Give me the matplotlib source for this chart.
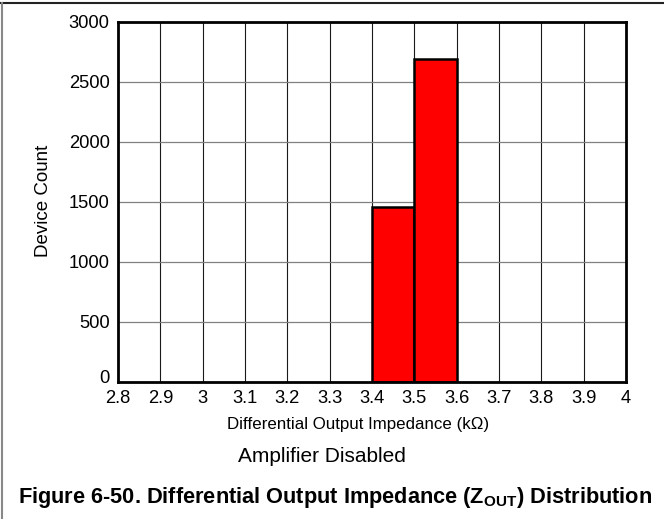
import matplotlib
matplotlib.use("Agg")
import matplotlib.pyplot as plt
from matplotlib.lines import Line2D
from matplotlib.transforms import ScaledTranslation

plt.rcParams['font.family'] = ['Liberation Sans', 'DejaVu Sans']
plt.rcParams['mathtext.fontset'] = 'custom'
plt.rcParams['mathtext.rm'] = 'Liberation Sans'
plt.rcParams['mathtext.it'] = 'Liberation Sans:italic'
plt.rcParams['mathtext.bf'] = 'Liberation Sans:bold'

# Histogram bins (left edges, kOhm) and device counts
bin_left = [3.4, 3.5]
bin_width = 0.1
counts = [1460, 2690]

x_ticks = [2.8, 2.9, 3.0, 3.1, 3.2, 3.3, 3.4, 3.5, 3.6, 3.7, 3.8, 3.9, 4.0]
x_tick_labels = ["2.8", "2.9", "3", "3.1", "3.2", "3.3", "3.4", "3.5",
                 "3.6", "3.7", "3.8", "3.9", "4"]
y_ticks = [0, 500, 1000, 1500, 2000, 2500, 3000]

W, H = 664, 519
fig = plt.figure(figsize=(W / 100, H / 100), dpi=100)
left, right, top, bottom = 118, 626, 22, 382
ax = fig.add_axes([left / W, 1 - bottom / H, (right - left) / W, (bottom - top) / H])

ax.bar(bin_left, counts, width=bin_width, align='edge',
       color='#ff0000', edgecolor='black', linewidth=1.8, zorder=3)

ax.set_xlim(2.8, 4.0)
ax.set_ylim(0, 3000)
ax.set_xticks(x_ticks)
ax.set_xticklabels(x_tick_labels)
ax.set_yticks(y_ticks)
ax.tick_params(axis='both', length=0, labelsize=13.2)
ax.tick_params(axis='x', pad=5.5)
ax.tick_params(axis='y', pad=6)

# lift the "0" label a little so it clears the first x label
zero_label = ax.get_yticklabels()[0]
zero_label.set_transform(zero_label.get_transform()
                         + ScaledTranslation(0, 4 / 72, fig.dpi_scale_trans))

for x in x_ticks[1:-1]:
    ax.axvline(x, color='#1a1a1a', linewidth=0.8, zorder=1)
for y in y_ticks[1:-1]:
    ax.axhline(y, color='#808080', linewidth=0.9, zorder=1)

for sp in ax.spines.values():
    sp.set_linewidth(2.0)
    sp.set_color('black')
    sp.set_zorder(4)

fig.text(44 / W, 1 - 201 / H, "Device Count", fontsize=13.5, rotation=90,
         ha='center', va='center')
fig.text(358 / W, 1 - 424 / H, "Differential Output Impedance (k\u03a9)",
         fontsize=12.2, ha='center', va='center')
fig.text(322 / W, 1 - 457 / H, "Amplifier Disabled", fontsize=15,
         ha='center', va='center')
fig.text(335 / W, 1 - 497 / H,
         r"Figure 6-50. Differential Output Impedance (Z$_{\mathbf{OUT}}$) Distribution",
         fontsize=15.7, fontweight='bold', ha='center', va='center')

# Frame around the figure: top rule and left edge
fig.add_artist(Line2D([1 / W, 1.0], [1 - 3 / H, 1 - 3 / H],
                      transform=fig.transFigure, color='#222222', linewidth=1.5))
fig.add_artist(Line2D([1.5 / W, 1.5 / W], [0, 1 - 3 / H],
                      transform=fig.transFigure, color='#888888', linewidth=1.5))

fig.savefig("out.png", dpi=100)
